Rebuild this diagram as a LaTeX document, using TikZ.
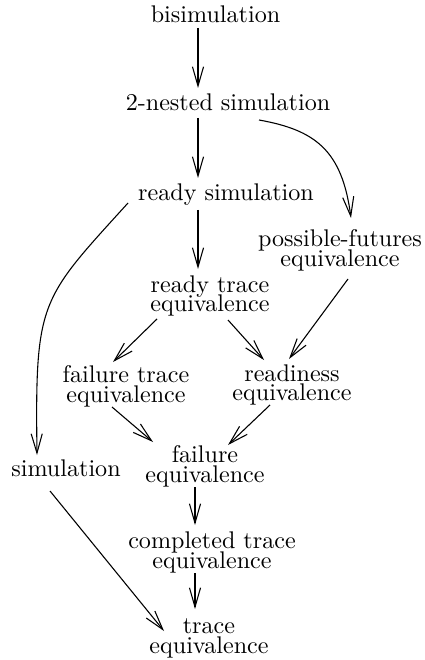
\documentclass[tikz,border=0pt]{standalone}
\usetikzlibrary{arrows.meta}
\begin{document}
\begin{tikzpicture}[x=0.4149pt,y=-0.4149pt,
  lbl/.style={inner sep=0pt,align=center,font={\fontsize{10pt}{8.2pt}\selectfont\lineskiplimit=-100pt}},
  arr/.style={draw,line width=0.45pt,-{Straight Barb[length=8pt,width=4.6pt]}}]
\useasboundingbox (0,0) rectangle (425,660);
\node[lbl] (bisim) at (215.5,14) {bisimulation};
\node[lbl] (nest) at (228,102.3) {2-nested simulation};
\node[lbl] (rsim) at (226,195) {ready simulation};
\node[lbl] (pf) at (340,250.7) {possible-futures\\equivalence};
\node[lbl] (rt) at (210,296) {ready trace\\equivalence};
\node[lbl] (ft) at (126,386) {failure trace\\equivalence};
\node[lbl] (rd) at (292,385) {readiness\\equivalence};
\node[lbl] (sim) at (66,468) {simulation};
\node[lbl] (fe) at (205,466) {failure\\equivalence};
\node[lbl] (ct) at (212,552.5) {completed trace\\equivalence};
\node[lbl] (tr) at (209,638.6) {trace\\equivalence};

\draw[arr] ([shift={(-17.5,14)}]bisim.center) -- ([shift={(-30,-14.3)}]nest.center);
\draw[arr] ([shift={(-30,15.7)}]nest.center) -- ([shift={(-28,-17)}]rsim.center);
\draw[arr] ([shift={(31,17.7)}]nest.center) .. controls +(56,10) and +(-9,-68) .. ([shift={(11,-32.7)}]pf.center);
\draw[arr] ([shift={(-28,15)}]rsim.center) -- ([shift={(-12,-27)}]rt.center);
\draw[arr] ([shift={(-98,8)}]rsim.center) .. controls +(-88,97) and +(-2,-155) .. ([shift={(-29,-13)}]sim.center);
\draw[arr] ([shift={(-53,23)}]rt.center) -- ([shift={(-13,-24)}]ft.center);
\draw[arr] ([shift={(18,24)}]rt.center) -- ([shift={(-28,-25)}]rd.center);
\draw[arr] ([shift={(8,28.3)}]pf.center) -- ([shift={(-3,-26)}]rd.center);
\draw[arr] ([shift={(-14,21)}]ft.center) -- ([shift={(-52,-24)}]fe.center);
\draw[arr] ([shift={(-22,20)}]rd.center) -- ([shift={(23,-21)}]fe.center);
\draw[arr] ([shift={(-10,21)}]fe.center) -- ([shift={(-17,-27.5)}]ct.center);
\draw[arr] ([shift={(-17,20.5)}]ct.center) -- ([shift={(-14,-29.6)}]tr.center);
\draw[arr] ([shift={(-16,23)}]sim.center) -- ([shift={(-45,-7.6)}]tr.center);
\end{tikzpicture}
\end{document}
